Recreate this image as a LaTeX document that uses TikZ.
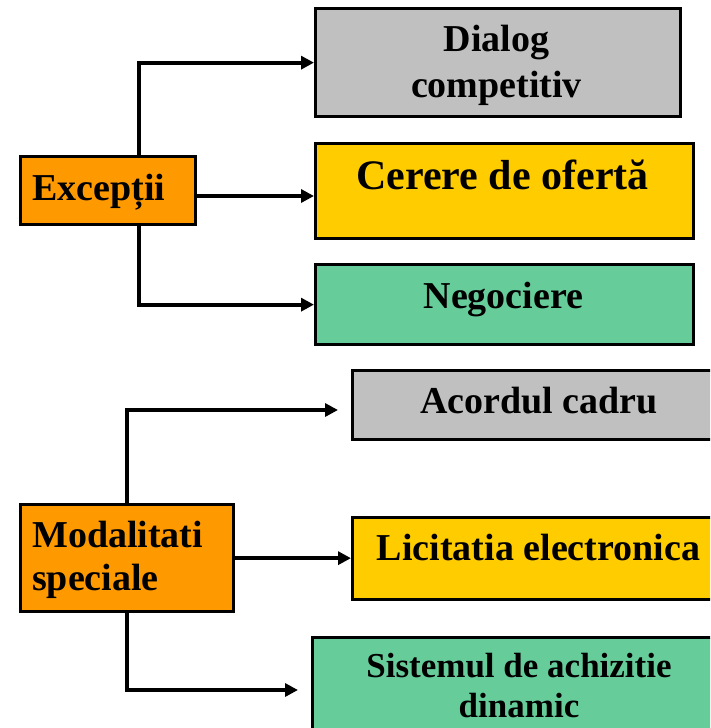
\documentclass[tikz,border=0pt]{standalone}
\usepackage{fontspec}
\setmainfont{Liberation Serif}
\usetikzlibrary{arrows.meta}
\definecolor{cgray}{HTML}{C0C0C0}
\definecolor{cyellow}{HTML}{FFCC00}
\definecolor{cgreen}{HTML}{66CC99}
\definecolor{corange}{HTML}{FF9900}
\tikzset{
  box/.style={draw=black, line width=3.3pt, rectangle, inner sep=0pt, anchor=north west},
  txt/.style={inner sep=0pt, font=\bfseries\fontsize{38}{44}\selectfont},
  arr/.style={line width=4pt, -{Triangle[length=13pt,width=13pt]}},
}
\begin{document}
\begin{tikzpicture}[x=1pt,y=-1pt]
\useasboundingbox (0,0) rectangle (710,728);
\clip (0,0) rectangle (710,728);
% top group boxes
\node[box, fill=cgray, minimum width=365pt, minimum height=108pt] (dialog) at (314,7) {};
\node[box, fill=cyellow, minimum width=378pt, minimum height=95pt] (cerere) at (314,142) {};
\node[box, fill=cgreen, minimum width=378pt, minimum height=80pt] (nego) at (314,263) {};
\node[box, fill=corange, minimum width=175pt, minimum height=68pt] (exc) at (19,155) {};
% bottom group boxes
\node[box, fill=cgray, minimum width=376pt, minimum height=69pt] (acord) at (351,369) {};
\node[box, fill=cyellow, minimum width=376pt, minimum height=82pt] (licit) at (351,516) {};
\node[box, fill=cgreen, minimum width=416pt, minimum height=120pt] (sist) at (311,636) {};
\node[box, fill=corange, minimum width=213pt, minimum height=107pt] (mod) at (19,503) {};
% texts
\node[txt, anchor=base] (t1a) at (496.5,51) {Dialog};
\node[txt, anchor=base] (t1b) at (496.5,97) {competitiv};
\node[txt, anchor=base, font=\bfseries\fontsize{42}{48}\selectfont] (t2) at (502.5,189) {Cerere de ofertă};
\node[txt, anchor=base] (t3) at (503.5,308) {Negociere};
\node[txt, anchor=base west] (t4) at (32,200) {Excepții};
\node[txt, anchor=base] (t5) at (539,413) {Acordul cadru};
\node[txt, anchor=base] (t6) at (538.5,560) {Licitatia electronica};
\node[txt, anchor=base, font=\bfseries\fontsize{35}{40}\selectfont] (t7a) at (519,677) {Sistemul de achizitie};
\node[txt, anchor=base, font=\bfseries\fontsize{35}{40}\selectfont] (t7b) at (519,717) {dinamic};
\node[txt, anchor=base west] (t8a) at (32,547) {Modalitati};
\node[txt, anchor=base west] (t8b) at (32,590) {speciale};
% connector helpers
\coordinate (vx) at (139.3,0);
\coordinate (ym) at (0,196);
\coordinate (a1end) at (338,410);
\coordinate (a3end) at (298,690);
% top connectors
\draw[arr] (exc.north -| vx) |- (dialog.west);
\draw[arr] (exc.east |- ym) -- (cerere.west |- ym);
\draw[arr] (exc.south -| vx) |- (nego.west);
% bottom connectors
\draw[arr] (mod.north) |- (a1end);
\draw[arr] (mod.east) -- (mod.east -| licit.west);
\draw[arr] (mod.south) |- (a3end);
\end{tikzpicture}
\end{document}
